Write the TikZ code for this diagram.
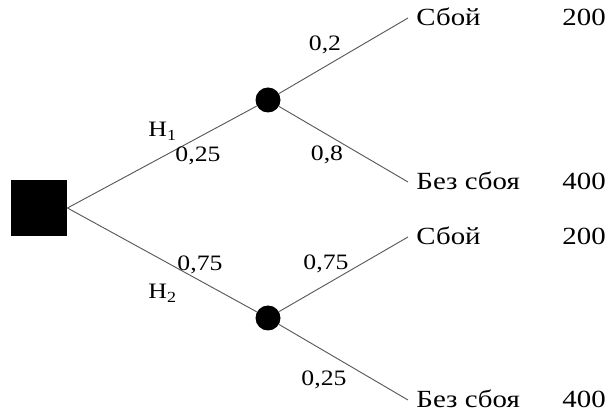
\documentclass[tikz,border=0pt]{standalone}
\usepackage{fontspec}
\setmainfont{Liberation Serif}[FakeStretch=1.17]

\begin{document}
\begin{tikzpicture}[x=.75pt,y=-.75pt,line width=.7pt,
    decision/.style={fill=black,minimum size=42pt,inner sep=0pt},
    chance/.style={circle,fill=black,minimum size=18.75pt,inner sep=0pt},
    outcome/.style={anchor=west,inner xsep=6pt,inner ysep=0pt,
      text height=1.12em,text depth=0pt,font=\fontsize{18.5}{20}\selectfont},
    payoff/.style={outcome,inner xsep=0pt},
    prob/.style={anchor=base,inner sep=0pt,font=\fontsize{16.5}{18}\selectfont},
    branch/.style={draw=black!65}]
  \useasboundingbox (0,0) rectangle (608,413);

  \node[decision] (root) at (39,208) {};
  \node[chance] (c1) at (268,100) {};
  \node[chance] (c2) at (268,318) {};

  \node[outcome] (f1) at (408,18) {Сбой};
  \node[outcome] (n1) at (408,182) {Без сбоя};
  \node[outcome] (f2) at (408,237) {Сбой};
  \node[outcome] (n2) at (408,400) {Без сбоя};

  \node[payoff] (p1) at (562,18) {200};
  \node[payoff] (p2) at (562,182) {400};
  \node[payoff] (p3) at (562,237) {200};
  \node[payoff] (p4) at (562,400) {400};

  \draw[branch] (root.east) -- (c1);
  \draw[branch] (root.east) -- (c2);
  \draw[branch] (c1) -- (f1.west);
  \draw[branch] (c1) -- (n1.west);
  \draw[branch] (c2) -- (f2.west);
  \draw[branch] (c2) -- (n2.west);

  \node[prob,anchor=base west] (h1) at (148,137) {H\textsubscript{1}};
  \node[prob] (q1) at (198,162) {0,25};
  \node[prob] (q2) at (200,271) {0,75};
  \node[prob,anchor=base west] (h2) at (148,299) {H\textsubscript{2}};
  \node[prob] (q3) at (325,51) {0,2};
  \node[prob] (q4) at (327,161) {0,8};
  \node[prob] (q5) at (326,270) {0,75};
  \node[prob] (q6) at (324,386) {0,25};
\end{tikzpicture}
\end{document}
